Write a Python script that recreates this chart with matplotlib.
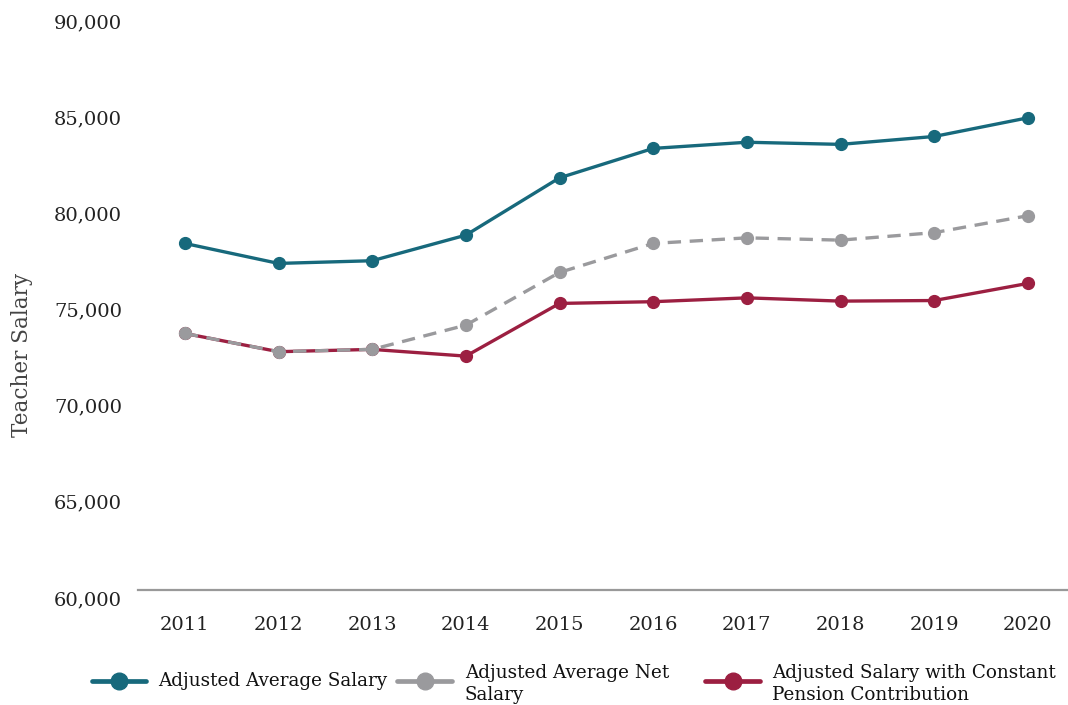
import matplotlib.pyplot as plt
from matplotlib.lines import Line2D
from matplotlib.transforms import ScaledTranslation

# === DATA ===
years = ["2011", "2012", "2013", "2014", "2015", "2016", "2017", "2018", "2019", "2020"]
avg_salary = [78020, 76980, 77120, 78450, 81430, 82960, 83280, 83170, 83580, 84550]
net_salary = [73340, 72390, 72510, 73770, 76510, 78020, 78310, 78190, 78580, 79460]
const_pension = [73340, 72390, 72510, 72160, 74900, 74990, 75190, 75020, 75050, 75940]
y_ticks = [60000, 65000, 70000, 75000, 80000, 85000, 90000]

TEAL = "#17697c"
GRAY = "#9a9a9d"
RED = "#9c1f41"
FONT = "DejaVu Serif"

plt.rcParams["font.family"] = FONT

W, H = 1068, 705
fig = plt.figure(figsize=(W / 100, H / 100), dpi=100)
left, right, bottom, top = 138, 1068, 590, 13
ax = fig.add_axes([left / W, 1 - bottom / H, (right - left) / W, (bottom - top) / H])

x = list(range(len(years)))
slot = 93.67
ax.set_xlim(-0.5, (right - left) / slot - 0.5)
ax.set_ylim(60000, 90000)

ax.plot(x, avg_salary, color=TEAL, lw=2.4, marker="o", ms=8.5, zorder=3, clip_on=False)
ax.plot(x, const_pension, color=RED, lw=2.4, marker="o", ms=8.5, zorder=4, clip_on=False)
ax.plot(x, net_salary, color=GRAY, lw=2.4, marker="o", ms=8.5, dashes=(4, 2.6), zorder=5, clip_on=False)

# axes styling
for s in ["top", "right", "left"]:
    ax.spines[s].set_visible(False)
ax.spines["bottom"].set_color("#999999")
ax.spines["bottom"].set_linewidth(1.6)

ax.set_xticks(x)
ax.set_xticklabels(years)
ax.set_yticks(y_ticks)
ax.set_yticklabels([f"{v:,}" for v in y_ticks])
ax.tick_params(axis="both", length=0, labelsize=14, colors="#222222")
ax.tick_params(axis="x", pad=19)
ax.tick_params(axis="y", pad=11.5)
off = ScaledTranslation(0, -8 / 100, fig.dpi_scale_trans)
for lab in ax.get_yticklabels():
    lab.set_transform(lab.get_transform() + off)

fig.text(22 / W, 1 - 355 / H, "Teacher Salary", rotation=90, ha="center", va="center",
         fontsize=15.5, color="#444444")

# === LEGEND (manual) ===
legend_items = [
    (92, 146, TEAL, "Adjusted Average Salary", 158),
    (397, 452, GRAY, "Adjusted Average Net\nSalary", 465),
    (705, 760, RED, "Adjusted Salary with Constant\nPension Contribution", 772),
]
ly = 1 - 681 / H
for x0, x1, c, txt, tx in legend_items:
    fig.add_artist(Line2D([x0 / W, x1 / W], [ly, ly], color=c, lw=3.4, solid_capstyle="round",
                          transform=fig.transFigure))
    fig.add_artist(Line2D([(x0 + x1) / 2 / W], [ly], color=c, marker="o", ms=12, lw=0,
                          transform=fig.transFigure))
    ty = ly if "\n" not in txt else 1 - 684 / H
    fig.text(tx / W, ty, txt, ha="left", va="center", fontsize=13.2, color="#111111",
             linespacing=1.3)

plt.savefig("out.png", dpi=100)
